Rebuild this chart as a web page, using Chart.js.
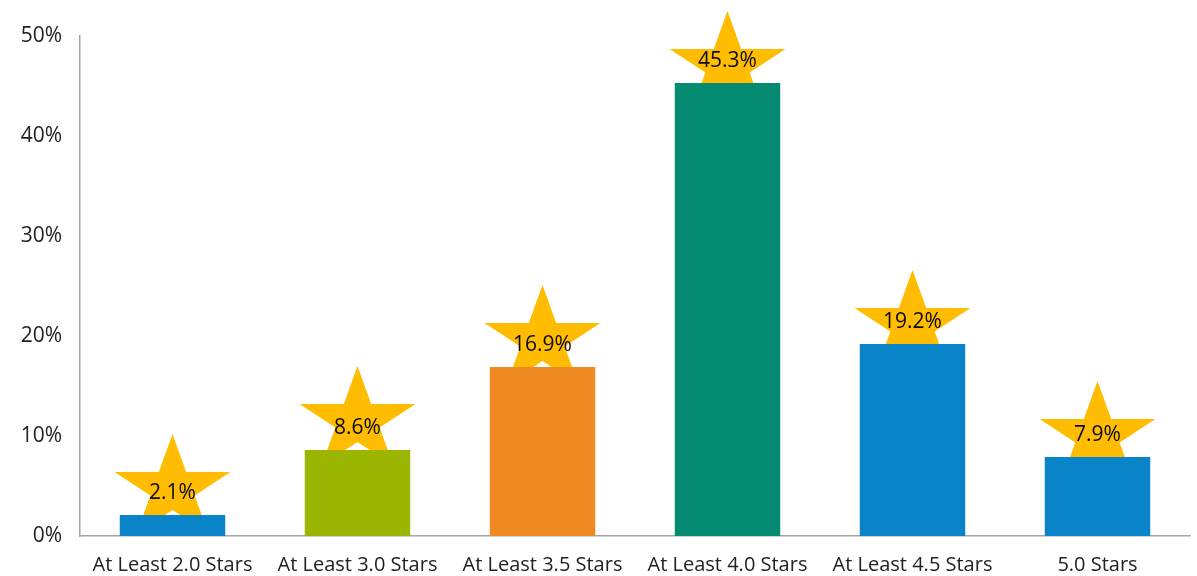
<!DOCTYPE html>
<html>
<head>
<meta charset="utf-8">
<script src="https://cdn.jsdelivr.net/npm/chart.js@4"></script>
<style>
html,body{margin:0;padding:0;background:#fff;}
#wrap{width:1197px;height:576px;position:relative;}
</style>
</head>
<body>
<div id="wrap"><canvas id="c" width="1197" height="576"></canvas></div>
<script>
const categories = ["At Least 2.0 Stars","At Least 3.0 Stars","At Least 3.5 Stars","At Least 4.0 Stars","At Least 4.5 Stars","5.0 Stars"];
const values = [2.1, 8.6, 16.9, 45.3, 19.2, 7.9];
const barColors = ["#0a84c8","#9bb500","#ef8a23","#068b73","#0a84c8","#0a84c8"];
const yTicks = [0,10,20,30,40,50];

// star style: vertical lift of each star above its bar (px), as hand-placed in the original
const starLift = [26, 29, 27, 17, 19, 21];

const starPlugin = {
  id: 'stars',
  beforeDatasetsDraw(chart) {
    const ctx = chart.ctx;
    const meta = chart.getDatasetMeta(0);
    ctx.save();
    meta.data.forEach((bar, idx) => {
      const cx = bar.x, cy = bar.y - starLift[idx];
      const Rx = 61, Ry = 55, k = 0.382;
      ctx.beginPath();
      for (let i = 0; i < 10; i++) {
        const f = i % 2 === 0 ? 1 : k;
        const a = -Math.PI/2 + i * Math.PI/5;
        const px = cx + Rx * f * Math.cos(a), py = cy + Ry * f * Math.sin(a);
        if (i === 0) ctx.moveTo(px, py); else ctx.lineTo(px, py);
      }
      ctx.closePath();
      ctx.fillStyle = '#ffbc00';
      ctx.fill();
    });
    ctx.restore();
  },
  afterDatasetsDraw(chart) {
    const ctx = chart.ctx;
    const meta = chart.getDatasetMeta(0);
    ctx.save();
    ctx.font = '21px "Open Sans", sans-serif';
    ctx.fillStyle = '#0a0a0a';
    ctx.textAlign = 'center';
    ctx.textBaseline = 'middle';
    meta.data.forEach((bar, i) => {
      ctx.fillText(values[i].toFixed(1) + '%', bar.x, bar.y - 22);
    });
    ctx.restore();
  }
};

new Chart(document.getElementById('c'), {
  type: 'bar',
  data: {
    labels: categories,
    datasets: [{
      data: values,
      backgroundColor: barColors,
      categoryPercentage: 1.0,
      barPercentage: 0.57
    }]
  },
  options: {
    responsive: false,
    animation: false,
    layout: { padding: { top: 36, right: 7, left: 0, bottom: 0 } },
    plugins: { legend: { display: false }, tooltip: { enabled: false } },
    scales: {
      y: {
        min: 0, max: 50,
        afterBuildTicks(axis) { axis.ticks = yTicks.map(v => ({ value: v })); },
        grid: { display: false, drawTicks: false },
        border: { display: true, color: '#a6a6a6', width: 1.5 },
        ticks: {
          padding: 18,
          color: '#222',
          font: { family: '"Open Sans", sans-serif', size: 21 },
          callback: v => v + '%'
        },
        afterFit(axis) { axis.width = 80; }
      },
      x: {
        grid: { display: false, drawTicks: false },
        border: { display: true, color: '#a6a6a6', width: 1.5 },
        ticks: {
          padding: 17,
          color: '#222',
          maxRotation: 0,
          autoSkip: false,
          font: { family: '"Open Sans", sans-serif', size: 20 }
        },
        afterFit(axis) { axis.height = 40; }
      }
    }
  },
  plugins: [starPlugin]
});
</script>
</body>
</html>
